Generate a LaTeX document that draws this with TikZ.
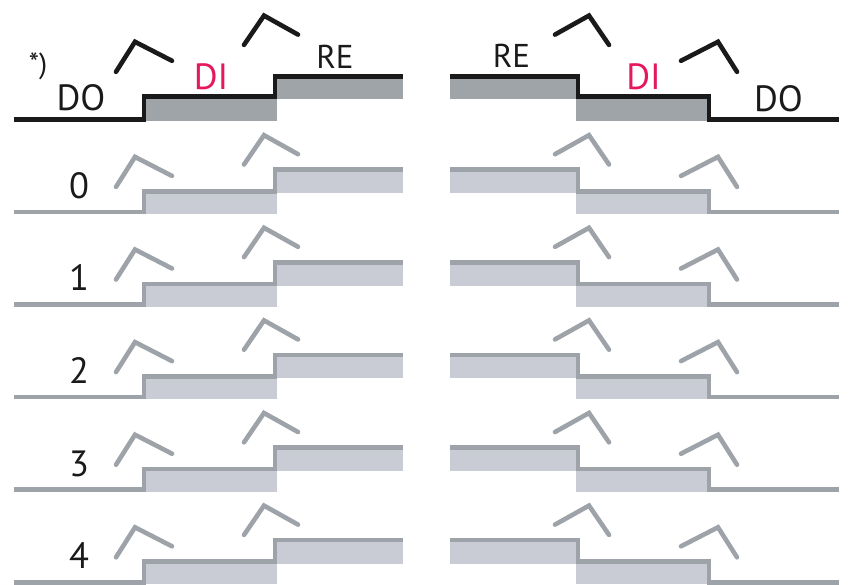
\documentclass[tikz,border=0pt]{standalone}
\usepackage{fontspec}
\setmainfont{PT Sans}
\definecolor{ink}{HTML}{1A1A1A}
\definecolor{darkfill}{HTML}{9FA4A9}
\definecolor{greyline}{HTML}{9DA3A8}
\definecolor{lightfill}{HTML}{C9CCD4}
\definecolor{accent}{HTML}{E5185D}
\tikzset{
  stair/.style={line width=4.6pt, line join=miter, line cap=butt},
  chev/.style={line width=4.6pt, line join=miter, line cap=round},
  word/.style={font=\fontsize{36.5}{36.5}\selectfont, text=ink, anchor=base, inner sep=0pt},
}
% One pair of staircases (rising on the left, falling on the right).
% #1 base line y, #2 line colour, #3 fill colour, #4 middle level, #5 upper level,
% #6 lift of the lower chevrons, #7 lift of the upper chevrons
\newcommand\stairpair[7]{%
  \begin{scope}[shift={(0,#1)}]
    \fill[#3] (144,#4) rectangle (277,2);
    \fill[#3] (275,#5) rectangle (403,{#4+2});
    \fill[#3] (450,#5) rectangle (578,{#4+2});
    \fill[#3] (576,#4) rectangle (709,2);
    \draw[stair,#2] (14,0) -| (144,#4) -| (275,#5) -- (403,#5);
    \draw[stair,#2] (450,#5) -| (578,#4) -| (709,0) -- (839,0);
    \draw[chev,#2] (116,{-25-#6}) -- (135,{-55-#6}) -- (172,{-36-#6});
    \draw[chev,#2] (244,{-47.4-#7}) -- (264,{-76.7-#7}) -- (298,{-57.7-#7});
    \draw[chev,#2] (555,{-57.7-#7}) -- (589,{-76.7-#7}) -- (609,{-47.4-#7});
    \draw[chev,#2] (681,{-36-#6}) -- (718,{-55-#6}) -- (737,{-25-#6});
  \end{scope}}
\begin{document}
\begin{tikzpicture}[x=1pt,y=-1pt]
  \useasboundingbox (0,0) rectangle (853,584);
  % top pair, drawn in black
  \stairpair{119.3}{ink}{darkfill}{-22.6}{-42.6}{22.5}{27}
  % numbered pairs
  \foreach \k in {0,...,4} {
    \stairpair{211.9+92.6*\k}{greyline}{lightfill}{-20.7}{-42.2}{0}{0}
    \node[word] (num\k) at (79,{211.9+92.6*\k-13.7}) {\k};
  }
  % syllable labels
  \node[word, font=\fontsize{29}{29}\selectfont] (note) at (38,73.5) {*)};
  \node[word] (doL) at (81,110) {DO};
  \node[word, text=accent] (diL) at (211,89) {DI};
  \node[word, font=\fontsize{33}{33}\selectfont] (reL) at (335,68) {RE};
  \node[word, font=\fontsize{33}{33}\selectfont] (reR) at (511.5,67) {RE};
  \node[word, text=accent] (diR) at (643.5,89) {DI};
  \node[word] (doR) at (778.5,111.5) {DO};
\end{tikzpicture}
\end{document}
